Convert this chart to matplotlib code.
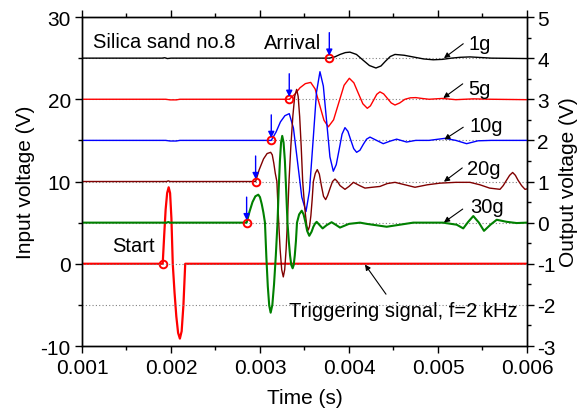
import matplotlib
matplotlib.use("Agg")
import matplotlib.pyplot as plt
from matplotlib.ticker import MultipleLocator, FormatStrFormatter

plt.rcParams['font.family'] = ['Liberation Sans', 'DejaVu Sans']
plt.rcParams['axes.unicode_minus'] = False

# ---------------- data (time in s, voltages in V) ----------------
trig_t = [0.001, 0.001907, 0.001924, 0.00194, 0.001957, 0.001974, 0.00199, 0.002005,
          0.00202, 0.00204, 0.00206, 0.00208, 0.0021, 0.00212, 0.00214, 0.00215,
          0.00216, 0.006]
trig_v = [0, 0, 3.5, 6.6, 8.6, 9.3, 8.6, 5.5, 0, -3.5, -6.4, -8.4, -9.1, -8.2, -5.0,
          -2.5, 0, 0]

g1_t = [0.001, 0.0019, 0.00193, 0.00196, 0.0020, 0.003779, 0.00384, 0.0039, 0.00396,
        0.004011, 0.004084, 0.004157, 0.00423, 0.004303, 0.00436, 0.00441, 0.004464,
        0.004517, 0.00462, 0.00473, 0.00484, 0.004947, 0.00505, 0.00515, 0.00525,
        0.00536, 0.0056, 0.006]
g1_v = [4, 4, 4.01, 3.99, 4, 4.0, 4.03, 4.09, 4.135, 4.146, 4.09, 3.953, 3.82, 3.76,
        3.81, 3.925, 4.04, 4.09, 4.07, 4.025, 3.98, 3.96, 3.97, 4.0, 4.02, 4.03, 4.0, 3.99]

g5_t = [0.001, 0.00194, 0.00199, 0.00206, 0.0021, 0.003329, 0.00339, 0.00345, 0.00351,
        0.00357, 0.00362, 0.003669, 0.003719, 0.003768, 0.003827, 0.003886, 0.003945,
        0.004004, 0.004055, 0.004105, 0.004156, 0.004206, 0.004241, 0.004277, 0.004312,
        0.004348, 0.00439, 0.004432, 0.004475, 0.004517, 0.00457, 0.004629, 0.00469,
        0.00475, 0.00482, 0.0049, 0.00505, 0.0052, 0.0054, 0.0056, 0.006]
g5_v = [3, 3, 2.985, 2.985, 3, 3.0, 3.12, 3.28, 3.38, 3.41, 3.25, 2.87, 2.49, 2.33, 2.5,
        2.92, 3.34, 3.51, 3.4, 3.145, 2.89, 2.78, 2.84, 2.98, 3.12, 3.18, 3.13, 3.02, 2.91,
        2.86, 2.91, 3.0, 3.035, 3.04, 3.02, 3.0, 3.02, 2.99, 3.01, 3.0, 2.99]

g10_t = [0.001, 0.00194, 0.00199, 0.00206, 0.0021, 0.003127, 0.00318, 0.00323, 0.00328,
         0.003329, 0.003376, 0.003423, 0.00347, 0.003517, 0.003556, 0.003596, 0.003635,
         0.003674, 0.003712, 0.003749, 0.003786, 0.003824, 0.003857, 0.00389, 0.003922,
         0.003955, 0.003988, 0.00402, 0.004053, 0.004086, 0.004123, 0.00416, 0.004198,
         0.004236, 0.00431, 0.004385, 0.00446, 0.004536, 0.004648, 0.00475, 0.0049,
         0.005079, 0.0052, 0.005322, 0.00545, 0.0056, 0.006]
g10_v = [2, 2, 1.985, 1.985, 2, 2.0, 2.2, 2.45, 2.6, 2.65, 2.30, 1.46, 0.62, 0.27, 0.77,
         1.97, 3.17, 3.67, 3.32, 2.46, 1.6, 1.25, 1.41, 1.78, 2.15, 2.31, 2.22, 2.01, 1.80,
         1.71, 1.76, 1.9, 2.03, 2.08, 2.0, 1.92, 1.98, 2.03, 1.96, 2.0, 2.0, 2.05, 2.0,
         1.92, 1.99, 2.0, 2.0]

g20_t = [0.001, 0.00195, 0.00197, 0.00199, 0.002951, 0.00299, 0.00304, 0.00308, 0.00312,
         0.003138, 0.003155, 0.003172, 0.00319, 0.003208, 0.003226, 0.003244, 0.003262,
         0.003278, 0.003294, 0.00331, 0.003326, 0.003347, 0.003369, 0.00339, 0.003412,
         0.003429, 0.003446, 0.003463, 0.00348, 0.003496, 0.003512, 0.003527, 0.003543,
         0.003557, 0.003572, 0.003586, 0.0036, 0.003622, 0.003644, 0.003667, 0.00369,
         0.003714, 0.003738, 0.00376, 0.00379, 0.003815, 0.003843, 0.00387, 0.0039,
         0.003955, 0.004, 0.00405, 0.00412, 0.00418, 0.00426, 0.004348, 0.00443, 0.004517,
         0.00463, 0.004742, 0.00488, 0.005022, 0.0052, 0.00536, 0.005472, 0.00558,
         0.005697, 0.005733, 0.00577, 0.005805, 0.005839, 0.00587, 0.0059, 0.00594,
         0.005978, 0.006]
g20_v = [1, 1, 1.015, 1, 1.0, 1.28, 1.55, 1.68, 1.71, 1.65, 1.45, 1.2, 1.0, 0.11, -0.64,
         -1.14, -1.32, -1.14, -0.64, 0.11, 1.0, 1.86, 2.58, 3.07, 3.24, 3.07, 2.58, 1.86,
         1.0, 0.55, 0.17, -0.09, -0.18, -0.09, 0.17, 0.55, 1.0, 1.2, 1.29, 1.18, 0.9,
         0.64, 0.56, 0.66, 0.85, 1.0, 1.06, 1.0, 0.9, 0.81, 0.88, 0.98, 0.9, 0.84, 0.86,
         0.88, 0.95, 0.98, 0.92, 0.86, 0.92, 0.96, 0.98, 0.98, 0.92, 0.84, 0.81, 0.9, 1.03,
         1.15, 1.22, 1.15, 1.03, 0.9, 0.81, 0.82]

g30_t = [0.001, 0.00195, 0.00197, 0.00199, 0.00285, 0.002883, 0.002916, 0.002948, 0.002981,
         0.003, 0.00302, 0.003038, 0.003056, 0.003072, 0.003088, 0.003104, 0.00312,
         0.003139, 0.003158, 0.003178, 0.003197, 0.00321, 0.003224, 0.003237, 0.00325,
         0.003265, 0.00328, 0.003294, 0.003309, 0.003324, 0.003338, 0.003352, 0.003367,
         0.003379, 0.003391, 0.003404, 0.003416, 0.00344, 0.003469, 0.00349, 0.00351,
         0.00353, 0.003554, 0.00358, 0.0036, 0.00362, 0.003637, 0.00367, 0.003704,
         0.00375, 0.003805, 0.00385, 0.003899, 0.004, 0.004124, 0.0042, 0.004424,
         0.004722, 0.005056, 0.00521, 0.005284, 0.00534, 0.005397, 0.00546, 0.005517,
         0.00559, 0.00566, 0.005772, 0.005884, 0.006]
g30_v = [0, 0, 0.015, 0, 0, 0.27, 0.5, 0.64, 0.68, 0.62, 0.45, 0.25, 0.0, -0.85, -1.55,
         -2.02, -2.19, -2.0, -1.5, -0.8, 0.0, 0.8, 1.5, 1.95, 2.11, 1.95, 1.5, 0.8, 0.0,
         -0.45, -0.8, -1.03, -1.11, -1.03, -0.8, -0.45, 0.0, 0.2, 0.29, 0.2, 0.02, -0.2,
         -0.32, -0.22, -0.1, -0.02, 0.02, -0.06, -0.14, -0.06, 0.01, -0.05, -0.12, -0.03,
         0.0, -0.03, -0.1, 0.0, 0.0, -0.05, -0.14, 0.02, 0.16, 0.0, -0.2, -0.05, 0.07,
         0.02, -0.01, 0.0]

labels = ['1g', '5g', '10g', '20g', '30g']
baselines = [4, 3, 2, 1, 0]
arrivals = [0.003779, 0.003329, 0.003127, 0.002951, 0.00285]
colors = ['black', '#ff0000', '#0000ff', '#800000', '#008000']
start_t = 0.001907

# ---------------- figure ----------------
fig = plt.figure(figsize=(5.81, 4.14), dpi=100)
ax = fig.add_axes([0.1411, 0.1618, 0.7659, 0.7947])
ax2 = ax.twinx()

ax.set_xlim(0.001, 0.006)
ax.set_ylim(-10, 30)
ax2.set_ylim(-3, 5)

# dotted reference lines
for b in [-2, -1, 0, 1, 2, 3, 4]:
    ax2.axhline(b, color='#808080', ls=(0, (1, 2)), lw=0.8, zorder=0.5)

# trigger
ax.plot(trig_t, trig_v, color='#ff0000', lw=1.6, zorder=2, solid_joinstyle='round')
ax.plot([start_t], [0], 'o', ms=5.5, mfc='none', mec='#ff0000', mew=1.4, zorder=3)

series = [(g1_t, g1_v), (g5_t, g5_v), (g10_t, g10_v), (g20_t, g20_v), (g30_t, g30_v)]
lws = [1.0, 1.0, 1.0, 1.0, 1.5]
for (t, v), c, lw in zip(series, colors, lws):
    ax2.plot(t, v, color=c, lw=lw, zorder=2, solid_joinstyle='round')

for ta, b in zip(arrivals, baselines):
    ax2.plot([ta], [b], 'o', ms=5.5, mfc='none', mec='#ff0000', mew=1.4, zorder=4)
    ax2.annotate('', xy=(ta, b + 0.06), xytext=(ta, b + 0.62),
                 arrowprops=dict(arrowstyle='-|>', color='#0000ff', lw=1.0,
                                 mutation_scale=9, shrinkA=0, shrinkB=0), zorder=5)

fs = 14.5
lab_pos = [(0.005340, 4.35), (0.005340, 3.27), (0.005352, 2.36), (0.005329, 1.32), (0.005360, 0.40)]
arr_tail = [(0.005284, 4.35), (0.005278, 3.375), (0.005284, 2.32), (0.005273, 1.33), (0.005278, 0.33)]
arr_head = [(0.005067, 4.0), (0.00506, 3.03), (0.005071, 2.02), (0.005067, 0.995), (0.005067, 0.006)]
for lab, p, tl, hd in zip(labels, lab_pos, arr_tail, arr_head):
    ax2.text(p[0], p[1], lab, fontsize=fs, ha='left', va='center', zorder=6)
    ax2.annotate('', xy=hd, xytext=tl,
                 arrowprops=dict(arrowstyle='-|>', color='black', lw=0.8,
                                 mutation_scale=8, shrinkA=0, shrinkB=0), zorder=6)

ax2.text(0.003329, -2.147, 'Triggering signal, f=2 kHz', fontsize=fs, ha='left', va='center', zorder=6)
ax2.annotate('', xy=(0.00418, -1.02), xytext=(0.004416, -1.74),
             arrowprops=dict(arrowstyle='-|>', color='black', lw=0.8,
                             mutation_scale=8, shrinkA=0, shrinkB=0), zorder=6)
ax2.text(0.001334, -0.564, 'Start', fontsize=fs, ha='left', va='center', zorder=6)
ax2.text(0.001124, 4.406, 'Silica sand no.8', fontsize=fs, ha='left', va='center', zorder=6)
ax2.text(0.003048, 4.39, 'Arrival', fontsize=fs, ha='left', va='center', zorder=6)

# ticks
ax.xaxis.set_major_locator(MultipleLocator(0.001))
ax.xaxis.set_minor_locator(MultipleLocator(0.0005))
ax.xaxis.set_major_formatter(FormatStrFormatter('%.3f'))
ax.yaxis.set_major_locator(MultipleLocator(10))
ax.yaxis.set_minor_locator(MultipleLocator(5))
ax2.yaxis.set_major_locator(MultipleLocator(1))
ax2.yaxis.set_minor_locator(MultipleLocator(0.5))

ax.tick_params(axis='x', which='both', direction='out', top=True, labelsize=15, width=1)
ax.tick_params(axis='y', which='both', direction='out', labelsize=15, width=1, pad=3)
ax2.tick_params(axis='y', which='both', direction='out', labelsize=15, width=1, pad=2.5)
for a in (ax, ax2):
    a.tick_params(which='major', length=5)
    a.tick_params(which='minor', length=3)
    for s in a.spines.values():
        s.set_linewidth(1.0)

ax.set_xlabel('Time (s)', fontsize=15, labelpad=8)
ax.set_ylabel('Input voltage (V)', fontsize=15, labelpad=4)
ax2.set_ylabel('Output voltage (V)', fontsize=15, labelpad=2)

fig.savefig('out.png', dpi=100)
